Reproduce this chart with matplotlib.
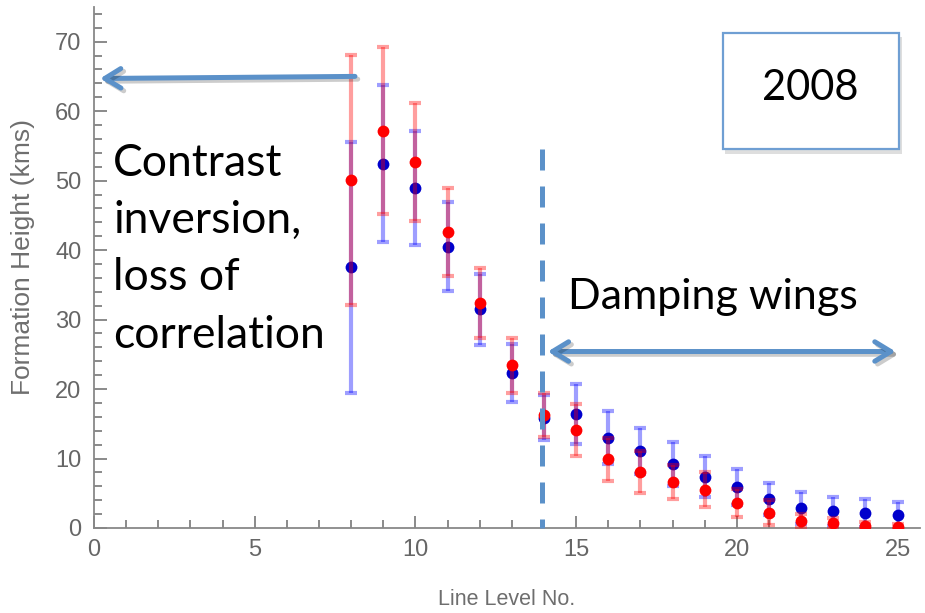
import matplotlib
matplotlib.use("Agg")
import matplotlib.pyplot as plt
import matplotlib.patheffects as pe
from matplotlib.patches import Rectangle
from matplotlib.ticker import MultipleLocator

# line levels and formation heights
levels = list(range(8, 26))
red_h = [50.1, 57.2, 52.7, 42.6, 32.4, 23.4, 16.3, 14.1, 9.9, 8.1, 6.6, 5.5, 3.6, 2.2, 1.0, 0.7, 0.3, 0.2]
red_err = [18.0, 12.0, 8.5, 6.4, 5.0, 4.0, 3.2, 3.8, 3.1, 3.0, 2.5, 2.5, 2.0, 1.8, 1.0, 0.8, 0.5, 0.4]
blue_h = [37.5, 52.4, 49.0, 40.5, 31.5, 22.3, 15.9, 16.4, 13.0, 11.1, 9.2, 7.4, 5.9, 4.2, 2.9, 2.4, 2.2, 1.8]
blue_err = [18.0, 11.3, 8.2, 6.4, 5.1, 4.2, 3.3, 4.3, 3.8, 3.3, 3.2, 3.0, 2.6, 2.3, 2.3, 2.1, 2.0, 2.0]

x_ticks = [0, 5, 10, 15, 20, 25]
y_ticks = [0, 10, 20, 30, 40, 50, 60, 70]

note_left = "Contrast\ninversion,\nloss of\ncorrelation"
note_right = "Damping wings"
year = "2008"

arrow_col = "#5b91c9"
gray = "#666666"

fig = plt.figure(figsize=(9.25, 6.13), dpi=100)
ax = fig.add_axes([0.1016, 0.1387, 0.893, 0.85])

# blue first, red on top
ax.errorbar(levels, blue_h, yerr=blue_err, fmt="none", ecolor=(0, 0, 1, 0.38),
            elinewidth=3, capsize=4.5, capthick=3, zorder=2)
ax.plot(levels, blue_h, "o", color=(0, 0, 0.8), ms=8.5, mec="none", zorder=3)
ax.errorbar(levels, red_h, yerr=red_err, fmt="none", ecolor=(1, 0, 0, 0.38),
            elinewidth=3, capsize=4.5, capthick=3, zorder=4)
ax.plot(levels, red_h, "o", color=(1, 0, 0), ms=8.5, mec="none", zorder=5)

ax.set_xlim(0, 25.7)
ax.set_ylim(0, 75)
ax.set_xticks(x_ticks)
ax.set_yticks(y_ticks)
ax.xaxis.set_minor_locator(MultipleLocator(1))
ax.yaxis.set_minor_locator(MultipleLocator(2))
ax.tick_params(which="both", direction="in", color="#777777", width=1.2)
ax.tick_params(which="major", length=9, labelsize=17, labelcolor=gray)
ax.tick_params(which="minor", length=5.5)
ax.tick_params(axis="y", pad=9)
ax.tick_params(axis="x", pad=8)
for lab in ax.get_xticklabels() + ax.get_yticklabels():
    lab.set_family("Liberation Sans")

for s in ["top", "right"]:
    ax.spines[s].set_visible(False)
for s in ["left", "bottom"]:
    ax.spines[s].set_color("#888888")
    ax.spines[s].set_linewidth(1.3)

ax.set_xlabel("Line Level No.", fontsize=15.5, color="#6e6e6e", family="Liberation Sans")
ax.set_ylabel("Formation Height (kms)", fontsize=19, color="#6e6e6e", family="Liberation Sans")
ax.xaxis.set_label_coords(0.5, -0.117)
ax.yaxis.set_label_coords(-0.072, 0.52)

shadow = [pe.SimpleLineShadow(offset=(2, -2), shadow_color="black", alpha=0.2), pe.Normal()]
head = ",head_length=1.15,head_width=0.7"

# overlay annotations
ax.annotate("", xy=(0.19, 64.7), xytext=(8.12, 65.0),
            arrowprops=dict(arrowstyle="->" + head,
                            color=arrow_col, lw=3.6, capstyle="round", joinstyle="round",
                            shrinkA=0, shrinkB=0, path_effects=shadow),
            annotation_clip=False, zorder=6)
ax.annotate("", xy=(24.94, 25.4), xytext=(14.12, 25.4),
            arrowprops=dict(arrowstyle="<->" + head,
                            color=arrow_col, lw=3.6, capstyle="round", joinstyle="round",
                            shrinkA=0, shrinkB=0, path_effects=shadow),
            annotation_clip=False, zorder=6)
ax.plot([13.93, 13.93], [54.5, 0], color=arrow_col, lw=3.6,
        linestyle=(0, (4.2, 3.2)), solid_capstyle="butt", dash_capstyle="butt",
        zorder=7, clip_on=False)

ax.text(0.6, 55.4, note_left, fontsize=32, family="Lato", va="top", ha="left",
        linespacing=1.49, zorder=8)
ax.text(14.74, 33.3, note_right, fontsize=31, family="Lato", va="center", ha="left",
        zorder=8)

box = Rectangle((19.56, 54.5), 5.5, 16.8, facecolor="white", edgecolor="#6f9fd3",
                lw=1.6, zorder=8, clip_on=False,
                path_effects=[pe.withSimplePatchShadow(offset=(2, -3), alpha=0.18)])
ax.add_patch(box)
ax.text(22.3, 63.3, year, fontsize=30, family="Lato", ha="center", va="center", zorder=9)

fig.savefig("out.png", dpi=100)
